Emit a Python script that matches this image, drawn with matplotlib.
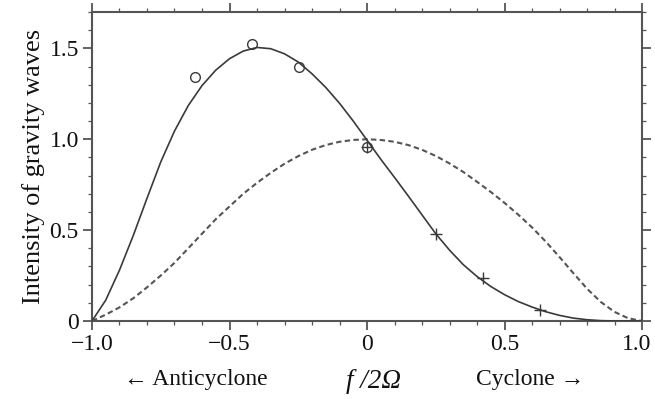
import matplotlib
matplotlib.use('Agg')
import matplotlib.pyplot as plt
import matplotlib.transforms as mtransforms
from matplotlib.ticker import MultipleLocator, FixedLocator, FixedFormatter

# --- DATA ---
f_grid = [-1.0, -0.95, -0.9, -0.85, -0.8, -0.75, -0.7, -0.65, -0.6, -0.55,
          -0.5, -0.45, -0.4, -0.35, -0.3, -0.25, -0.2, -0.15, -0.1, -0.05,
          0.0, 0.05, 0.1, 0.15, 0.2, 0.25, 0.3, 0.35, 0.4, 0.45,
          0.5, 0.55, 0.6, 0.65, 0.7, 0.75, 0.8, 0.85, 0.9, 0.95, 1.0]

# solid curve
solid_vals = [0.0, 0.115, 0.28, 0.47, 0.675, 0.875, 1.045, 1.185, 1.295, 1.38,
              1.443, 1.485, 1.505, 1.498, 1.47, 1.425, 1.36, 1.285, 1.198, 1.10,
              0.995, 0.89, 0.79, 0.688, 0.584, 0.48, 0.39, 0.31, 0.245, 0.19,
              0.145, 0.107, 0.077, 0.051, 0.031, 0.016, 0.007, 0.002, 0.0, 0.0, 0.0]

# dashed curve
dashed_vals = [0.0, 0.035, 0.075, 0.125, 0.185, 0.25, 0.32, 0.40, 0.48, 0.56,
               0.63, 0.70, 0.76, 0.815, 0.865, 0.907, 0.942, 0.968, 0.986, 0.996,
               1.0, 0.996, 0.986, 0.968, 0.942, 0.908, 0.867, 0.82, 0.766, 0.71,
               0.65, 0.585, 0.515, 0.437, 0.352, 0.264, 0.178, 0.105, 0.05, 0.015, 0.0]

# simulation points
circle_f = [-0.627, -0.42, -0.247, 0.0]
circle_v = [1.34, 1.525, 1.40, 0.96]
cross_f = [0.0, 0.252, 0.422, 0.628]
cross_v = [0.96, 0.48, 0.235, 0.06]

x_ticks = [-1.0, -0.5, 0.0, 0.5, 1.0]
x_ticklabels = ['\u22121.0', '\u22120.5', '0', '0.5', '1.0']
y_ticks = [0.0, 0.5, 1.0, 1.5]
y_ticklabels = ['0', '0.5', '1.0', '1.5']

# --- STYLE ---
SERIF = ['Liberation Serif', 'DejaVu Serif']
AX_COLOR = '#555555'
LINE_COLOR = '#3a3a3a'
TXT = '#111111'
FS = 17

fig = plt.figure(figsize=(6.55, 3.99), dpi=100)
fig.patch.set_facecolor('white')
ax = fig.add_axes([92/655, 1 - 321/399, (642 - 92)/655, (321 - 12)/399])

ax.plot(f_grid, dashed_vals, color='#555555', lw=1.5, linestyle=(0, (2.6, 1.6)), zorder=2)
ax.plot(f_grid, solid_vals, color=LINE_COLOR, lw=1.2, zorder=3)
ax.plot(circle_f, circle_v, linestyle='none', marker='o', markersize=7,
        markerfacecolor='none', markeredgecolor=LINE_COLOR, markeredgewidth=1.0, zorder=4)
ax.plot(cross_f, cross_v, linestyle='none', marker='+', markersize=8,
        color=LINE_COLOR, markeredgewidth=1.0, zorder=4)

ax.set_xlim(-1.0, 1.0)
ax.set_ylim(0, 1.7)

ax.xaxis.set_major_locator(FixedLocator(x_ticks))
ax.xaxis.set_major_formatter(FixedFormatter(x_ticklabels))
ax.xaxis.set_minor_locator(MultipleLocator(0.1))
ax.yaxis.set_major_locator(FixedLocator(y_ticks))
ax.yaxis.set_major_formatter(FixedFormatter(y_ticklabels))
ax.yaxis.set_minor_locator(MultipleLocator(0.1))

for s in ax.spines.values():
    s.set_color(AX_COLOR)
    s.set_linewidth(1.5)

ax.tick_params(which='both', direction='out', top=True, right=True,
               color=AX_COLOR, labelcolor=TXT)
ax.tick_params(which='major', length=6.5, width=1.3, pad=3)
ax.tick_params(which='minor', length=3.2, width=0.9)

for lab in ax.get_xticklabels() + ax.get_yticklabels():
    lab.set_family(SERIF)
    lab.set_fontsize(FS)

# pull the last x label in so it stays inside the figure
last = ax.get_xticklabels()[-1]
last.set_transform(last.get_transform() +
                   mtransforms.ScaledTranslation(-5/100, 0, fig.dpi_scale_trans))

ax.set_ylabel('Intensity of gravity waves', family=SERIF, fontsize=FS + 2,
              color=TXT, labelpad=3)

# --- BOTTOM LABELS ---
fig.text(196/655, 1 - 380/399, '\u2190 Anticyclone', family=SERIF, fontsize=FS,
         ha='center', va='center', color=TXT)
fig.text(374/655, 1 - 382/399, 'f /2\u03a9', family=SERIF, fontsize=FS + 2.5,
         style='italic', ha='center', va='center', color=TXT)
fig.text(530/655, 1 - 380/399, 'Cyclone \u2192', family=SERIF, fontsize=FS,
         ha='center', va='center', color=TXT)

plt.savefig('out.png', dpi=100, facecolor='white')
plt.close()
